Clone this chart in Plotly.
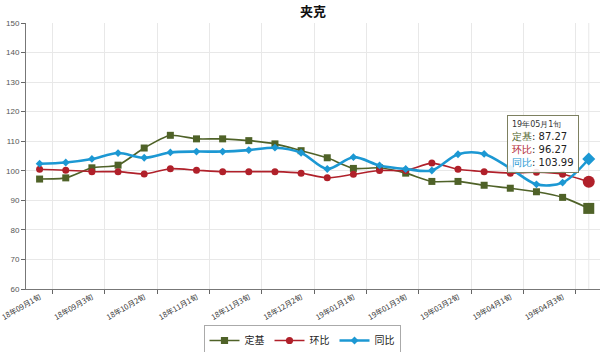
import plotly.graph_objects as go

categories = ["18年09月1旬", "18年09月2旬", "18年09月3旬", "18年10月1旬", "18年10月2旬", "18年10月3旬",
              "18年11月1旬", "18年11月2旬", "18年11月3旬", "18年12月1旬", "18年12月2旬", "18年12月3旬",
              "19年01月1旬", "19年01月2旬", "19年01月3旬", "19年03月1旬", "19年03月2旬", "19年03月3旬",
              "19年04月1旬", "19年04月2旬", "19年04月3旬", "19年05月1旬"]
dingji = [97.2, 97.6, 101.0, 101.9, 107.7, 112.0, 110.8, 110.8, 110.2, 109.1, 106.8, 104.4,
          100.8, 101.0, 99.2, 96.4, 96.4, 95.1, 94.1, 92.9, 91.0, 87.27]
huanbi = [100.5, 100.2, 99.7, 99.7, 98.9, 100.7, 100.2, 99.7, 99.7, 99.7, 99.2, 97.6,
          98.8, 100.1, 100.1, 102.6, 100.5, 99.7, 99.2, 99.5, 98.8, 96.27]
tongbi = [102.4, 102.8, 104.0, 106.0, 104.4, 106.2, 106.5, 106.5, 107.0, 107.8, 106.1, 100.6,
          104.6, 101.8, 100.6, 100.1, 105.6, 105.7, 100.8, 95.4, 96.0, 103.99]
yticks = [60, 70, 80, 90, 100, 110, 120, 130, 140, 150]

C_G = "#4F6228"
C_R = "#B0202A"
C_B = "#1C98D3"
FONT = "Noto Sans CJK SC"

idx = list(range(len(categories)))
n = len(categories)

def sizes(base, big):
    return [base] * (n - 1) + [big]

fig = go.Figure()
fig.add_trace(go.Scatter(x=idx, y=dingji, name="定基", mode="lines+markers",
                         line=dict(color=C_G, width=1.6, shape="spline", smoothing=0.6),
                         marker=dict(symbol="square", size=sizes(7, 11), color=C_G,
                                     opacity=1, line=dict(width=0))))
fig.add_trace(go.Scatter(x=idx, y=huanbi, name="环比", mode="lines+markers",
                         line=dict(color=C_R, width=1.6, shape="spline", smoothing=0.6),
                         marker=dict(symbol="circle", size=sizes(7, 12), color=C_R,
                                     opacity=1, line=dict(width=0))))
fig.add_trace(go.Scatter(x=idx, y=tongbi, name="同比", mode="lines+markers",
                         line=dict(color=C_B, width=2.6, shape="spline", smoothing=0.9),
                         marker=dict(symbol="diamond", size=sizes(6, 10), color=C_B,
                                     opacity=1, line=dict(width=0))))

xr = [-0.52, 21.43]
label_idx = list(range(0, 21, 2))
fig.update_layout(
    width=600, height=352,
    margin=dict(l=23, r=0, t=23, b=63),
    paper_bgcolor="white", plot_bgcolor="white",
    font=dict(family=FONT, color="#333"),
    title=dict(text="<b>夹克</b>", x=0.5, xref="paper", xanchor="center",
               y=1 - 11 / 352, yref="container", yanchor="middle",
               font=dict(size=13, color="#111", family=FONT)),
    showlegend=True,
    legend=dict(orientation="h", xref="container", yref="container",
                x=302 / 600, xanchor="center", y=1 - 325 / 352, yanchor="top",
                bordercolor="#aaaaaa", borderwidth=1, bgcolor="white",
                font=dict(size=10, color="#222", family=FONT),
                itemwidth=30, tracegroupgap=0),
    xaxis=dict(range=xr, tickmode="array",
               tickvals=label_idx,
               ticktext=[categories[i] for i in label_idx],
               tickangle=-30, ticks="", showgrid=False, ticklabeloverflow="allow",
               tickfont=dict(size=7.5, color="#333", family=FONT),
               minor=dict(tickmode="array", tickvals=[i + 0.5 for i in label_idx],
                          ticks="outside", ticklen=4, tickcolor="#666",
                          showgrid=True, gridcolor="#e8e8e8", gridwidth=1),
               showline=True, linecolor="#777", linewidth=1, zeroline=False),
    yaxis=dict(range=[60, 150], tickmode="array", tickvals=yticks,
               ticks="outside", ticklen=4, tickcolor="#666",
               tickfont=dict(size=8, color="#555", family="Liberation Sans"),
               showgrid=True, gridcolor="#e8e8e8", gridwidth=1,
               showline=True, linecolor="#777", linewidth=1, zeroline=False),
)

fig.add_shape(type="line", xref="x", yref="y", x0=21, x1=21, y0=60, y1=150,
              line=dict(color="#e8e8e8", width=1), layer="below")

tip = ("<span style='font-size:8px;color:#333'>" + categories[-1] + "</span><br>"
       f"<span style='color:{C_G}'>定基</span>: {dingji[-1]:.2f}<br>"
       f"<span style='color:{C_R}'>环比</span>: {huanbi[-1]:.2f}<br>"
       f"<span style='color:{C_B}'>同比</span>: {tongbi[-1]:.2f}")
fig.add_annotation(x=17.88, y=118.9, xref="x", yref="y", xanchor="left", yanchor="top",
                   text=tip, showarrow=False, align="left",
                   font=dict(size=10, color="#222", family="DejaVu Sans"),
                   bgcolor="rgba(255,255,255,0.88)", bordercolor="#7d8060",
                   borderwidth=1, borderpad=4)

fig.write_html("out.html")
